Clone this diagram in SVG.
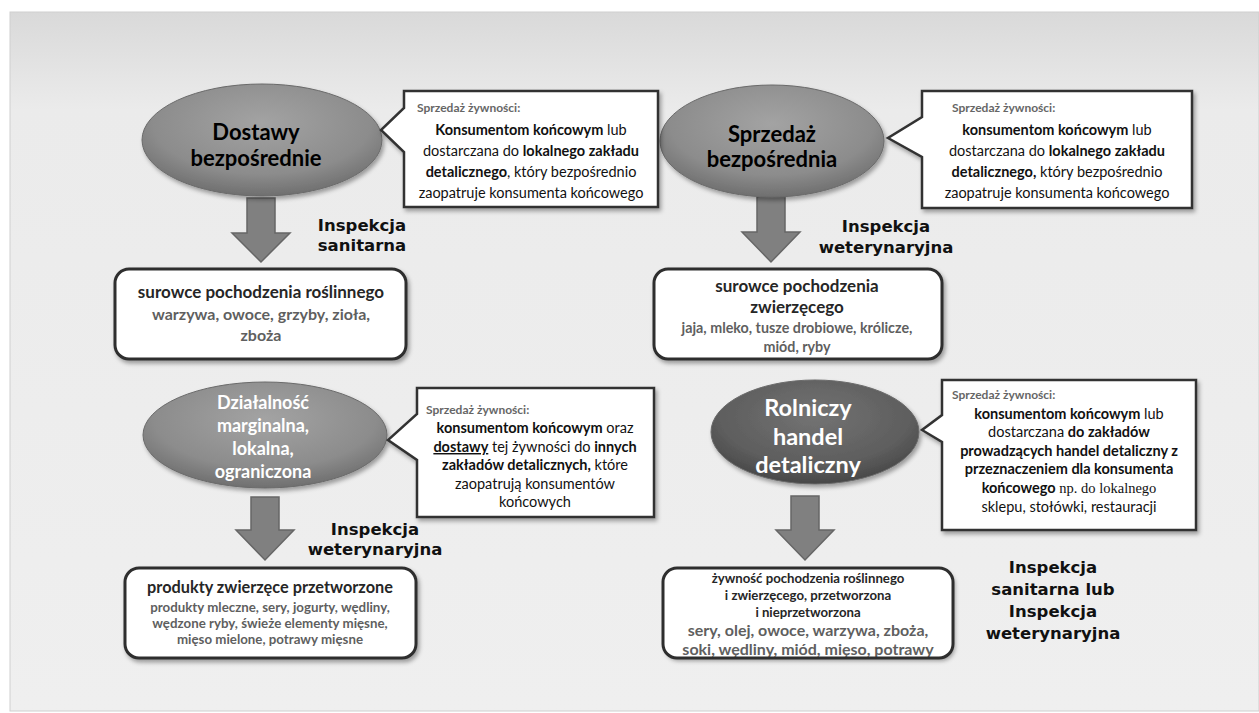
<svg xmlns="http://www.w3.org/2000/svg" width="1259" height="713" viewBox="0 0 1259 713">
<defs>
<linearGradient id="bg" x1="0" y1="0" x2="0" y2="1">
<stop offset="0" stop-color="#d9d9d9"/>
<stop offset="0.14" stop-color="#ebebeb"/>
<stop offset="1" stop-color="#efefef"/>
</linearGradient>
<radialGradient id="ell" cx="0.5" cy="0.35" r="0.65">
<stop offset="0" stop-color="#a3a3a3"/>
<stop offset="0.7" stop-color="#8c8c8c"/>
<stop offset="1" stop-color="#6f6f6f"/>
</radialGradient>
<radialGradient id="ellDark" cx="0.5" cy="0.35" r="0.65">
<stop offset="0" stop-color="#737373"/>
<stop offset="0.7" stop-color="#5e5e5e"/>
<stop offset="1" stop-color="#474747"/>
</radialGradient>
<filter id="sh" x="-10%" y="-10%" width="125%" height="130%">
<feDropShadow dx="2" dy="3" stdDeviation="2" flood-color="#000" flood-opacity="0.35"/>
</filter>
</defs>
<style>
.ell{stroke:#6a6a6a;stroke-width:1;filter:url(#sh)}
.box{fill:#fff;stroke:#2e2e2e;stroke-width:3}
.boxfill{fill:#fff;filter:url(#sh)}
.boxline{fill:none;stroke:#2e2e2e;stroke-width:3}
.call{fill:#fff;stroke:#333;stroke-width:2.5;filter:url(#sh)}
.arr{fill:#808080;stroke:#666;stroke-width:1.5}
.etitle{font-family:Lato,"Liberation Sans",sans-serif;font-weight:bold;text-anchor:middle}
.hd{font-family:Lato,"Liberation Sans",sans-serif;font-weight:bold;font-size:12px;fill:#666}
.cb{font-family:Lato,"Liberation Sans",sans-serif;font-size:14.5px;fill:#111;text-anchor:middle}
.b{font-weight:bold}
.ser{font-family:"Liberation Serif",serif}
.insp{font-family:"DejaVu Sans",sans-serif;font-weight:bold;font-size:16.5px;fill:#111;text-anchor:middle}
.bt{font-family:Lato,"Liberation Sans",sans-serif;font-weight:bold;fill:#262626;text-anchor:middle}
.bi{font-family:Lato,"Liberation Sans",sans-serif;font-weight:bold;fill:#5f5f5f;text-anchor:middle}
</style>
<rect x="0" y="0" width="1259" height="713" fill="#fff"/>
<rect x="10" y="12" width="1249" height="699" fill="url(#bg)" stroke="#cfcfcf" stroke-width="1"/>

<g id="connectors">
<path class="arr" d="M247,198 H275 V233 H290 L261,262 L232,233 H247 Z"/>
<path class="arr" d="M757,197 H785 V232 H800 L771,262 L742,232 H757 Z"/>
<path class="arr" d="M251,497 H279 V530 H294 L265,560 L236,530 H251 Z"/>
<path class="arr" d="M791,496 H819 V530 H834 L805,560 L776,530 H791 Z"/>
</g>

<g id="node-dostawy">
<ellipse class="ell" cx="262" cy="140" rx="120" ry="56" fill="url(#ell)"/>
<text class="etitle" font-size="22" fill="#000"><tspan x="256" y="140">Dostawy</tspan><tspan x="256" y="166">bezpośrednie</tspan></text>
</g>

<g id="node-sprzedaz">
<ellipse class="ell" cx="772" cy="141" rx="112" ry="56" fill="url(#ell)"/>
<text class="etitle" font-size="22" fill="#000"><tspan x="772" y="142">Sprzedaż</tspan><tspan x="772" y="167">bezpośrednia</tspan></text>
</g>

<g id="node-dzialalnosc">
<ellipse class="ell" cx="265" cy="435" rx="122" ry="53" fill="url(#ell)"/>
<text class="etitle" font-size="18" fill="#fff"><tspan x="263" y="409">Działalność</tspan><tspan x="263" y="432">marginalna,</tspan><tspan x="263" y="455">lokalna,</tspan><tspan x="263" y="478">ograniczona</tspan></text>
</g>

<g id="node-rolniczy">
<ellipse class="ell" cx="815" cy="432" rx="104" ry="52" fill="url(#ellDark)"/>
<text class="etitle" font-size="23.5" fill="#fff"><tspan x="808" y="416">Rolniczy</tspan><tspan x="808" y="444.5">handel</tspan><tspan x="808" y="473">detaliczny</tspan></text>
</g>

<g id="callout-1">
<path class="call" d="M404,91 H658 V207 H404 V152 L381,130 L404,108 Z"/>
<text class="hd" x="417" y="112">Sprzedaż żywności:</text>
<text class="cb"><tspan x="531" y="135"><tspan class="b">Konsumentom końcowym</tspan> lub</tspan><tspan x="531" y="156">dostarczana do <tspan class="b">lokalnego zakładu</tspan></tspan><tspan x="531" y="177"><tspan class="b">detalicznego</tspan>, który bezpośrednio</tspan><tspan x="531" y="198">zaopatruje konsumenta końcowego</tspan></text>
</g>

<g id="callout-2">
<path class="call" d="M922,91 H1192 V208 H922 V157 L888,138 L922,117 Z"/>
<text class="hd" x="952" y="112">Sprzedaż żywności:</text>
<text class="cb"><tspan x="1057" y="135"><tspan class="b">konsumentom końcowym</tspan> lub</tspan><tspan x="1057" y="156">dostarczana do <tspan class="b">lokalnego zakładu</tspan></tspan><tspan x="1057" y="177"><tspan class="b">detalicznego,</tspan> który bezpośrednio</tspan><tspan x="1057" y="198">zaopatruje konsumenta końcowego</tspan></text>
</g>

<g id="label-sanitarna">
<text class="insp"><tspan x="362" y="231">Inspekcja</tspan><tspan x="362" y="251">sanitarna</tspan></text>
</g>
<g id="label-weterynaryjna-1">
<text class="insp"><tspan x="886" y="232">Inspekcja</tspan><tspan x="886" y="253">weterynaryjna</tspan></text>
</g>

<g id="box-roslinne">
<rect class="box" x="115" y="269" width="291" height="90" rx="14" filter="url(#sh)"/>
<text class="bt" font-size="17"><tspan x="261" y="298">surowce pochodzenia roślinnego</tspan></text>
<text class="bi" font-size="16"><tspan x="261" y="320">warzywa, owoce, grzyby, zioła,</tspan><tspan x="261" y="341">zboża</tspan></text>
</g>

<g id="box-zwierzece">
<rect class="box" x="654" y="269" width="288" height="90" rx="14" filter="url(#sh)"/>
<text class="bt" font-size="17"><tspan x="797" y="292">surowce pochodzenia</tspan><tspan x="797" y="313">zwierzęcego</tspan></text>
<text class="bi" font-size="14.3"><tspan x="797" y="333">jaja, mleko, tusze drobiowe, królicze,</tspan><tspan x="797" y="352">miód, ryby</tspan></text>
</g>

<g id="label-weterynaryjna-2">
<text class="insp"><tspan x="375" y="535">Inspekcja</tspan><tspan x="375" y="555">weterynaryjna</tspan></text>
</g>

<g id="callout-3">
<path class="call" d="M417,388 H654 V517 H417 V460 L388,440 L417,414 Z"/>
<text class="hd" x="426" y="414">Sprzedaż żywności:</text>
<text class="cb"><tspan x="535" y="433"><tspan class="b">konsumentom końcowym</tspan> oraz</tspan><tspan x="535" y="452"><tspan class="b" text-decoration="underline">dostawy</tspan> tej żywności do <tspan class="b">innych</tspan></tspan><tspan x="535" y="470"><tspan class="b">zakładów detalicznych,</tspan> które</tspan><tspan x="535" y="489">zaopatrują konsumentów</tspan><tspan x="535" y="507">końcowych</tspan></text>
</g>

<g id="callout-4">
<path class="call" d="M942,380 H1196 V530 H942 V442 L922,430 L942,415 Z"/>
<text class="hd" x="952" y="399">Sprzedaż żywności:</text>
<text class="cb"><tspan x="1069" y="419"><tspan class="b">konsumentom końcowym</tspan> lub</tspan><tspan x="1069" y="437">dostarczana <tspan class="b">do zakładów</tspan></tspan><tspan x="1069" y="456" class="b">prowadzących handel detaliczny z</tspan><tspan x="1069" y="474" class="b">przeznaczeniem dla konsumenta</tspan><tspan x="1069" y="493"><tspan class="b">końcowego</tspan><tspan class="ser"> np. do lokalnego</tspan></tspan><tspan x="1069" y="512">sklepu, stołówki, restauracji</tspan></text>
</g>

<g id="box-przetworzone">
<rect class="box" x="125" y="568" width="291" height="90" rx="14" filter="url(#sh)"/>
<text class="bt" font-size="16.3"><tspan x="270" y="593">produkty zwierzęce przetworzone</tspan></text>
<text class="bi" font-size="13.3"><tspan x="270" y="612">produkty mleczne, sery, jogurty, wędliny,</tspan><tspan x="270" y="628">wędzone ryby, świeże elementy mięsne,</tspan><tspan x="270" y="644">mięso mielone, potrawy mięsne</tspan></text>
</g>

<g id="box-rolniczy">
<rect class="boxfill" x="663" y="568" width="290" height="90" rx="14"/>
<text class="bt" font-size="13.2"><tspan x="808" y="583">żywność pochodzenia roślinnego</tspan><tspan x="808" y="600">i zwierzęcego, przetworzona</tspan><tspan x="808" y="617">i nieprzetworzona</tspan></text>
<text class="bi" font-size="16"><tspan x="808" y="636">sery, olej, owoce, warzywa, zboża,</tspan><tspan x="808" y="655">soki, wędliny, miód, mięso, potrawy</tspan></text>
<rect class="boxline" x="663" y="568" width="290" height="90" rx="14"/>
</g>

<g id="label-sanitarna-lub">
<text class="insp"><tspan x="1053" y="573">Inspekcja</tspan><tspan x="1053" y="595">sanitarna lub</tspan><tspan x="1053" y="617">Inspekcja</tspan><tspan x="1053" y="639">weterynaryjna</tspan></text>
</g>
</svg>
